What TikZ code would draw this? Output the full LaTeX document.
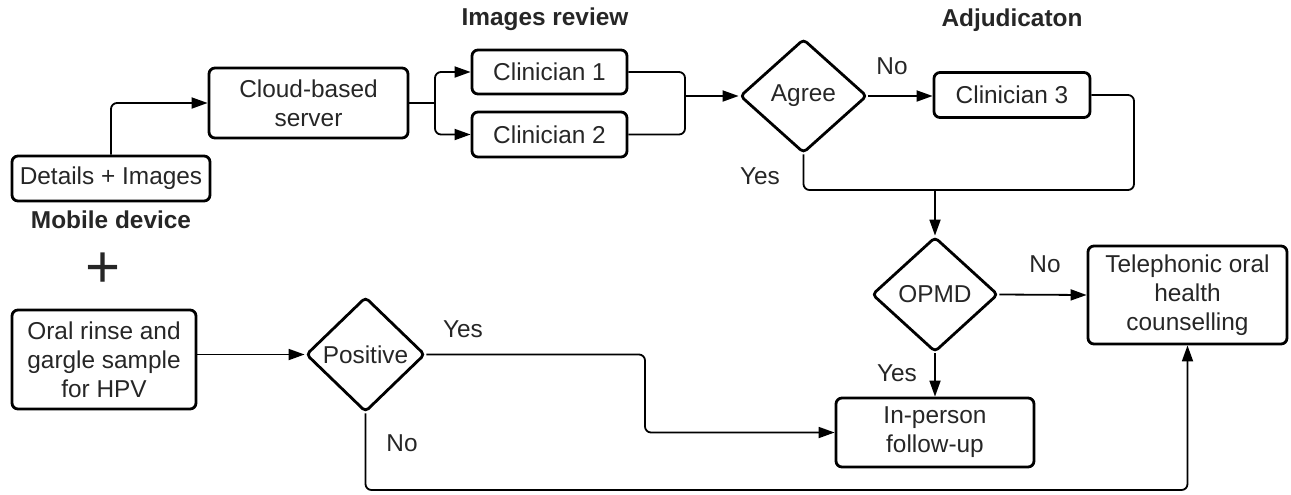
\documentclass[tikz,border=0pt]{standalone}
\usepackage{fontspec}
\setmainfont{Liberation Sans}
\usetikzlibrary{arrows.meta}
\usetikzlibrary{shapes.geometric}
\usetikzlibrary{positioning}

\tikzset{
  every node/.style={font=\fontsize{12.2}{14.5}\selectfont, text=black!85},
  stagebox/.style={draw, line width=1.4pt, rounded corners=3pt, align=center, inner sep=0pt},
  decision/.style={draw, diamond, line width=1.4pt, rounded corners=2pt, inner sep=0pt},
  flow/.style={line width=0.9pt, rounded corners=3pt, -{Triangle[length=8pt,width=5.5pt]}},
  link/.style={line width=0.9pt, rounded corners=3pt},
  heading/.style={font=\fontsize{12.2}{14.5}\selectfont\bfseries}
}

\begin{document}
\begin{tikzpicture}[x=0.5pt, y=-0.5pt]
\useasboundingbox (0,0) rectangle (1291,494);

% boxes
\node[stagebox, minimum width=99pt, minimum height=22.5pt] (details) at (111,178.5) {Details + Images};
\node[stagebox, minimum width=99.5pt, minimum height=35pt] (server) at (308.5,103) {Cloud-based\\server};
\node[stagebox, minimum width=77.5pt, minimum height=22pt] (clin1) at (549.5,72) {Clinician 1};
\node[stagebox, minimum width=77.5pt, minimum height=22.5pt] (clin2) at (549.5,134.5) {Clinician 2};
\node[stagebox, minimum width=78pt, minimum height=22.5pt] (clin3) at (1012,95) {Clinician 3};
\node[stagebox, minimum width=99.5pt, minimum height=49pt] (phone) at (1187.5,295) {Telephonic oral\\health\\counselling};
\node[stagebox, minimum width=99pt, minimum height=34.5pt] (visit) at (935,432.5) {In-person\\follow-up};
\node[stagebox, minimum width=92pt, minimum height=49.5pt] (rinse) at (104,359.5) {Oral rinse and\\gargle sample\\for HPV};

% decisions
\node[decision, minimum width=63.5pt, minimum height=57pt] (agree) at (803.5,96) {Agree};
\node[decision, minimum width=63pt, minimum height=57.5pt] (opmd) at (935,294.5) {OPMD};
\node[decision, minimum width=59.5pt, minimum height=57.5pt] (positive) at (365.5,354.5) {Positive};

% headings
\node[heading] (mobile) at (111,220) {Mobile device};
\node[heading] (review) at (545,19) {Images review};
\node[heading] (adjud) at (1012,20) {Adjudicaton};
\node[font=\fontsize{30}{30}\selectfont] (plus) at (103,270) {+};

% junctions
\coordinate (split) at (435,103);
\coordinate (merge) at (685,96);
\coordinate (join) at (935,190);
\coordinate (back) at (1134,190);
\coordinate (bend) at (645,432.5);
\coordinate (bottom) at (1187.5,490);

% connectors
\draw[flow] (details.north) |- (server.west);
\draw[link] (server.east) -- (split);
\draw[flow] (split) |- (clin1.west);
\draw[flow] (split) |- (clin2.west);
\draw[link] (clin1.east) -| (merge);
\draw[link] (clin2.east) -| (merge);
\draw[flow] (merge) -- (agree.west);
\draw[flow] (agree.east) -- (clin3.west |- agree.east);
\draw[link] (agree.south) |- (join);
\draw[link] (clin3.east) -| (back) -- (join);
\draw[flow] (join) -- (opmd.north);
\draw[flow] (opmd.east) -- (phone.west);
\draw[flow] (opmd.south) -- (visit.north);
\draw[flow] (rinse.east |- positive.west) -- (positive.west);
\draw[flow] (positive.east) -| (bend) -- (visit.west);
\draw[flow] (positive.south) |- (bottom) -- (phone.south);

% labels
\node (noagree) at (892,66) {No};
\node (yesagree) at (760,176) {Yes};
\node (noopmd) at (1045,264) {No};
\node (yesopmd) at (897,373) {Yes};
\node (yespos) at (463,329) {Yes};
\node (nopos) at (402,443) {No};
\end{tikzpicture}
\end{document}
